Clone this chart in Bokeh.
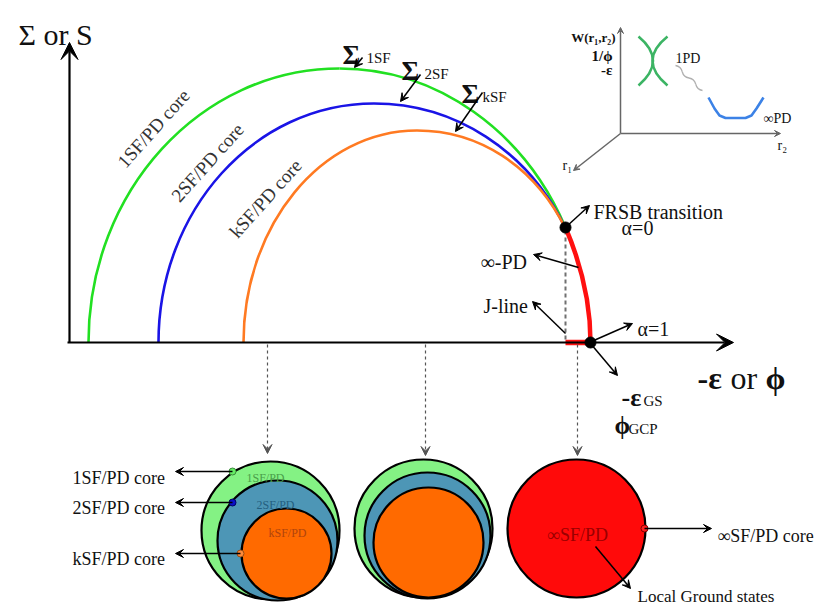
from bokeh.plotting import figure
from bokeh.models import Range1d, Arrow, VeeHead, ColumnDataSource
from bokeh.core.properties import value
from bokeh.embed import file_html
from bokeh.resources import INLINE
import math

SERIF = value("Liberation Serif")

# ---------------- data (picture coordinates) ----------------
# Main branches: cubic bezier segments (start, control 1, control 2, end)
seg_x0 = [88, 339, 158, 373.5, 243, 416.5]
seg_y0 = [342, 68, 342, 103, 342, 130]
seg_cx0 = [88, 436.6, 158, 453.8, 243, 477.2]
seg_cy0 = [191, 68, 210, 103, 225, 130]
seg_cx1 = [200, 523.8, 254, 527.5, 320.7, 533.6]
seg_cy1 = [68, 130.5, 103, 149.6, 130, 164.5]
seg_x1 = [339, 565, 373.5, 565, 416.5, 565]
seg_y1 = [68, 227, 103, 228, 130, 228]
seg_color = ["#22e022", "#22e022", "#1a14e6", "#1a14e6", "#ff7a22", "#ff7a22"]

# infinite-PD branch (red)
red_x0, red_y0, red_cx0, red_cy0, red_cx1, red_cy1, red_x1, red_y1 = 565, 227, 580.5, 263.3, 590, 302, 590, 342
jline_x = [565, 589]
jline_y = [342, 342]

# special points
pt_x = [565, 590]
pt_y = [227, 342]

# bottom circles: (center x, center y, radius, fill)
circ_x = [270, 277, 286, 423, 427, 428, 576]
circ_y = [530, 540, 553, 528, 535, 542, 528]
circ_r = [69, 60, 45, 69, 63, 55, 69]
circ_fill = ["#84f284", "#4d96b6", "#ff6a00", "#84f284", "#4d96b6", "#ff6a00", "#ff0a0a"]

# ---------------- figure ----------------
p = figure(width=830, height=605, x_range=Range1d(0, 830), y_range=Range1d(605, 0),
           output_backend="svg", toolbar_location=None, min_border=0,
           x_axis_location=None, y_axis_location=None)
p.grid.visible = False
p.outline_line_color = None

def arrows(xs, ys, xe, ye, color="black", width=1.4, size=9, dash="solid"):
    src = ColumnDataSource(dict(xs=xs, ys=ys, xe=xe, ye=ye))
    a = Arrow(source=src, x_start="xs", y_start="ys", x_end="xe", y_end="ye",
              line_color=color, line_width=width, line_dash=dash,
              end=VeeHead(size=size, fill_color=color, line_color=color, line_width=1))
    p.add_layout(a)

# axes arrows
arrows([69], [342], [69], [42], width=2.2, size=17)
arrows([67], [342], [733], [342], width=2.2, size=17)

# gray dashed J-line guide
p.line([565, 565], [230, 342], line_color="#707070", line_width=2, line_dash="4 3")

# pointer dashed arrows down to circles
arrows([267, 425, 577], [344, 344, 344], [267, 425, 577], [453, 455, 455],
       color="#555555", width=1.2, size=9, dash="3 3")

# main curves
p.bezier(x0=seg_x0, y0=seg_y0, x1=seg_x1, y1=seg_y1, cx0=seg_cx0, cy0=seg_cy0,
         cx1=seg_cx1, cy1=seg_cy1, line_color=seg_color, line_width=2.6)
p.bezier(x0=[red_x0], y0=[red_y0], x1=[red_x1], y1=[red_y1], cx0=[red_cx0], cy0=[red_cy0],
         cx1=[red_cx1], cy1=[red_cy1], line_color="#ff1010", line_width=4.5)
p.line(jline_x, jline_y, line_color="#ff1010", line_width=5.5)
p.scatter(pt_x, pt_y, size=11, color="black")

# label arrows
arrows([362, 420, 482, 566, 578, 565, 591, 590, 595, 232, 232, 240, 644],
       [57, 74, 92, 226, 267, 333, 341, 343, 546, 471, 502, 553, 528],
       [354, 400, 455, 589, 533, 532, 632, 617, 630, 175, 175, 175, 711],
       [67, 101, 131, 205, 254, 301, 323, 375, 588, 471, 502, 553, 528],
       width=1.5, size=8)

# circles
p.circle(circ_x, circ_y, radius=circ_r, fill_color=circ_fill, line_color="black", line_width=2.2)
p.scatter([232, 232, 240, 644], [471, 502, 553, 528], size=7,
          fill_color=["#66ee66", "#0a10c8", "#ff8a3a", "#ff2020"],
          line_color=["#3a8a3a", "#000060", "#9a4a10", "#800000"], line_width=1)

# inset axes
arrows([620, 620, 620], [133, 133, 133], [620, 780, 573], [27, 133, 170],
       color="#666666", width=1.5, size=6)
p.quadratic(x0=[638, 667], y0=[36, 36], x1=[638, 667], y1=[85, 85], cx=[667, 637], cy=[60, 60],
            line_color="#3cb464", line_width=2.6)
p.quadratic(x0=[675, 681.75, 688.5, 695.25], y0=[65, 71.25, 77.5, 83.75],
            x1=[681.75, 688.5, 695.25, 702], y1=[71.25, 77.5, 83.75, 90],
            cx=[680.4, 683.1, 693.9, 696.6], cy=[65.9, 76.6, 78.4, 89.1],
            line_color="#b0b0b0", line_width=1.3)
p.line([708, 714, 719, 725, 745, 751, 756, 763], [97, 108, 115, 117.5, 117.5, 115, 108, 97],
       line_color="#3c82e6", line_width=2.6, line_join="round")

# ---------------- texts ----------------
def txt(x, y, s, size, align="left", baseline="alphabetic", color="#111111", style="normal", angle=0.0):
    p.text([x], [y], text=[s], text_font=SERIF, text_font_size=f"{size}px", text_align=align,
           text_baseline=baseline, text_color=color, text_font_style=style, angle=angle)

txt(18, 34, "Σ or S", 30)
txt(697, 377, "-ε", 32, style="bold")
txt(730, 377, "or", 32)
txt(765, 377, "ϕ", 32, style="bold")

txt(342, 54, "Σ", 27, style="bold"); txt(366, 57, "1SF", 15)
txt(401, 70, "Σ", 27, style="bold"); txt(424, 73, "2SF", 15)
txt(461, 93, "Σ", 27, style="bold"); txt(482, 96, "kSF", 15)

ang = math.radians(48)
txt(153, 128, "1SF/PD core", 19, align="center", baseline="middle", color="#333333", angle=ang)
txt(207, 162, "2SF/PD core", 19, align="center", baseline="middle", color="#333333", angle=ang)
txt(265, 198, "kSF/PD core", 19, align="center", baseline="middle", color="#333333", angle=ang)

txt(593, 211, "FRSB transition", 20)
txt(637, 227, "α=0", 20, align="center")
txt(480, 261, "∞-PD", 20)
txt(483, 305, "J-line", 20)
txt(637, 328, "α=1", 20)
txt(621, 397, "-ε", 26, style="bold"); txt(643, 400, "GS", 15)
txt(614, 425, "ϕ", 25, style="bold"); txt(628, 428, "GCP", 15)

txt(615, 37, "W(r₁,r₂)", 13, align="right", style="bold")
txt(612, 55, "1/ϕ", 15, align="right", style="bold")
txt(612, 69, "-ε", 15, align="right", style="bold")
txt(675, 58, "1PD", 14)
txt(763, 118, "∞PD", 14)
txt(777, 145, "r₂", 14)
txt(562, 165, "r₁", 14)

txt(72, 477, "1SF/PD core", 18)
txt(72, 507, "2SF/PD core", 18)
txt(72, 558, "kSF/PD core", 18)
txt(265, 477, "1SF/PD", 12, align="center", color="#4a9e4a")
txt(275, 504, "2SF/PD", 12, align="center", color="#245f80")
txt(287, 532, "kSF/PD", 12, align="center", color="#b0440c")
txt(577, 534, "∞SF/PD", 18, align="center", color="#9a0000")
txt(717, 535, "∞SF/PD core", 18)
txt(637, 596, "Local Ground states", 17)

open("out.html", "w").write(file_html(p, INLINE))
